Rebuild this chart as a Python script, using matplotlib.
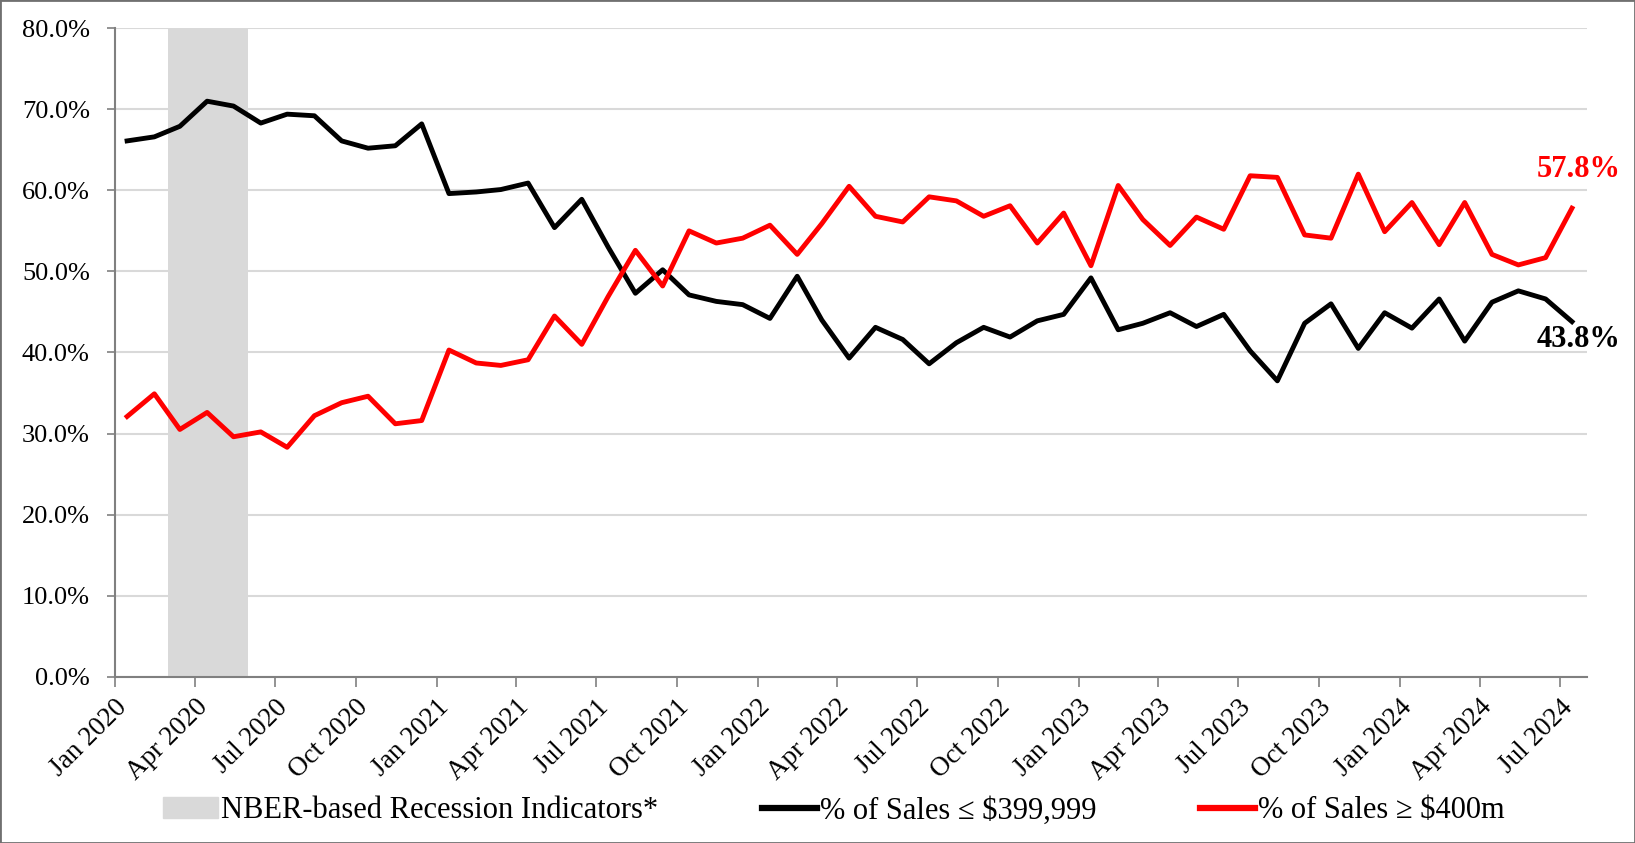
import matplotlib
matplotlib.use('agg')
import matplotlib.pyplot as plt
from matplotlib.ticker import PercentFormatter
from matplotlib.patches import Patch, Rectangle
from matplotlib.lines import Line2D
from matplotlib.transforms import ScaledTranslation
import pandas as pd

plt.rcParams['font.family'] = ['Liberation Serif', 'DejaVu Serif']

# monthly data Jan 2020 - Jul 2024 (%)
months = pd.date_range('2020-01-01', '2024-07-01', freq='MS')
under_400k = [66.1, 66.6, 67.9, 71.0, 70.4, 68.3, 69.4, 69.2, 66.1, 65.2, 65.5, 68.2,
              59.6, 59.8, 60.1, 60.9, 55.4, 58.9, 53.0, 47.3, 50.2, 47.1, 46.3, 45.9,
              44.2, 49.4, 44.0, 39.3, 43.1, 41.6, 38.6, 41.2, 43.1, 41.9, 43.9, 44.7,
              49.2, 42.8, 43.6, 44.9, 43.2, 44.7, 40.2, 36.5, 43.6, 46.0, 40.5, 44.9,
              43.0, 46.6, 41.4, 46.2, 47.6, 46.6, 43.8]
over_400k = [32.1, 34.9, 30.5, 32.6, 29.6, 30.2, 28.3, 32.2, 33.8, 34.6, 31.2, 31.6,
             40.3, 38.7, 38.4, 39.1, 44.5, 41.0, 46.9, 52.6, 48.2, 55.0, 53.5, 54.1,
             55.7, 52.1, 55.9, 60.5, 56.8, 56.1, 59.2, 58.7, 56.8, 58.1, 53.5, 57.2,
             50.7, 60.6, 56.4, 53.2, 56.7, 55.2, 61.8, 61.6, 54.5, 54.1, 62.0, 54.9,
             58.5, 53.3, 58.5, 52.1, 50.8, 51.7, 57.8]
recession = ('2020-03-01', '2020-06-01')
tick_dates = pd.date_range('2020-01-01', '2024-07-01', freq='3MS')

# points sit mid-month
x = months + pd.Timedelta(days=14)

fig = plt.figure(figsize=(16.35, 8.43), dpi=100)
ax = fig.add_axes([0.0702, 0.1973, 0.9004, 0.7692])

ax.axvspan(pd.Timestamp(recession[0]), pd.Timestamp(recession[1]), color='#d9d9d9', lw=0, zorder=1)
ax.plot(x, under_400k, color='black', lw=3.5, zorder=3)
ax.plot(x, over_400k, color='#ff0000', lw=3.5, zorder=3)

ax.set_xlim(pd.Timestamp('2020-01-01'), pd.Timestamp('2024-08-01'))
ax.set_ylim(0, 80)
ax.set_yticks(range(0, 81, 10))
ax.yaxis.set_major_formatter(PercentFormatter(100, decimals=1))
ax.set_xticks(tick_dates)
ax.set_xticklabels([d.strftime('%b %Y') for d in tick_dates], rotation=45,
                   ha='right', rotation_mode='anchor', fontsize=19.5)
shift = ScaledTranslation(5 / 72, 0, fig.dpi_scale_trans)
for lab in ax.get_xticklabels():
    lab.set_transform(lab.get_transform() + shift)
ax.tick_params(axis='y', labelsize=19, length=6, width=1.2, color='#808080', pad=12)
ax.tick_params(axis='x', length=7, width=1.2, color='#808080', pad=6)

ax.yaxis.grid(True, color='#d9d9d9', lw=1.5)
ax.set_axisbelow(True)
for s in ['top', 'right']:
    ax.spines[s].set_visible(False)
for s in ['left', 'bottom']:
    ax.spines[s].set_color('#808080')
    ax.spines[s].set_linewidth(1.5)

# end labels
ax.annotate(f'{over_400k[-1]:.1f}%', (x[-1], over_400k[-1]), xytext=(5, 28),
            textcoords='offset points', ha='center', va='center',
            fontsize=22, fontweight='bold', color='#ff0000')
ax.annotate(f'{under_400k[-1]:.1f}%', (x[-1], under_400k[-1]), xytext=(5, -13),
            textcoords='offset points', ha='center', va='center',
            fontsize=22, fontweight='bold', color='black')

handles = [Patch(color='#d9d9d9'),
           Line2D([], [], color='black', lw=4.5),
           Line2D([], [], color='#ff0000', lw=4.5)]
labels = ['NBER-based Recession Indicators*', '% of Sales \u2264 $399,999', '% of Sales \u2265 $400m']
fig.legend(handles, labels, loc='center', bbox_to_anchor=(0.51, 0.038), ncol=3,
           frameon=False, fontsize=22, handlelength=1.8, handletextpad=0.1,
           columnspacing=3.4)

fig.patches.append(Rectangle((0, 0), 1, 1, transform=fig.transFigure, fill=False,
                             edgecolor='#707070', lw=2))

fig.savefig('out.png', dpi=100)
